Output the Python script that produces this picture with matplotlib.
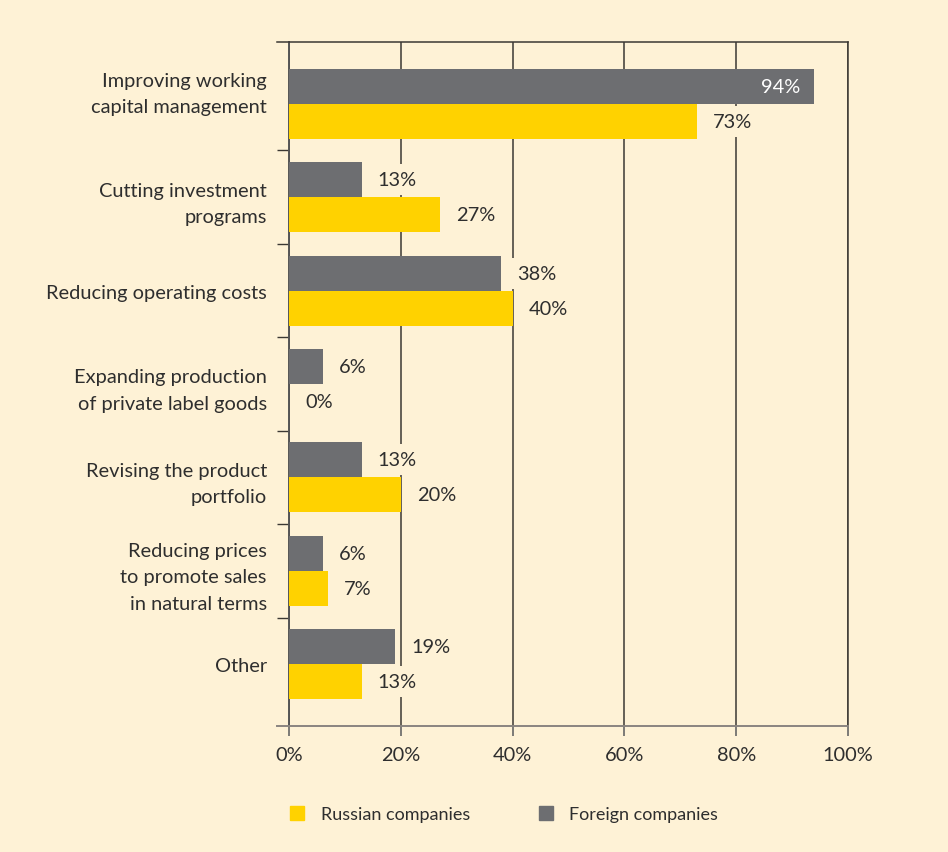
import matplotlib.pyplot as plt
import matplotlib.transforms as mtransforms
import numpy as np
from matplotlib.patches import Patch

categories = ["Improving working\ncapital management",
              "Cutting investment\nprograms",
              "Reducing operating costs",
              "Expanding production\nof private label goods",
              "Revising the product\nportfolio",
              "Reducing prices\nto promote sales\nin natural terms",
              "Other"]
foreign = [94, 13, 38, 6, 13, 6, 19]
russian = [73, 27, 40, 0, 20, 7, 13]
xticks = [0, 20, 40, 60, 80, 100]

bg = "#fef2d6"
grey = "#6d6e71"
yellow = "#ffd200"
txt = "#2e2e2e"
line = "#3b3833"

plt.rcParams['font.family'] = ['Lato', 'DejaVu Sans']
plt.rcParams['font.size'] = 14.4

fig = plt.figure(figsize=(9.48, 8.53), dpi=100, facecolor=bg)
ax = fig.add_axes([289/948, 1-727/853, 559/948, 684/853])
ax.set_facecolor(bg)

y = np.arange(len(categories))
h = 0.375
ax.barh(y - h/2, foreign, height=h, color=grey, zorder=3)
ax.barh(y + h/2, russian, height=h, color=yellow, zorder=3)

ax.set_xlim(0, 100)
ax.set_ylim(6.66, -0.66)
ax.set_xticks(xticks)
ax.set_xticklabels([f"{t}%" for t in xticks], color=txt)
ax.set_yticks(y)
ax.set_yticklabels(categories, ha='right', linespacing=1.65, color=txt)
ax.tick_params(axis='y', which='major', length=0, pad=16)
ax.set_yticks(y[:-1] + 0.5, minor=True)
ax.tick_params(axis='y', which='minor', length=8.6, width=1, color=line)
ax.tick_params(axis='x', length=7.2, width=1.2, color='#666666', pad=7)
ax.grid(axis='x', color=line, linewidth=1.1, zorder=1)

# first label sits a bit higher in the original
lab0 = ax.get_yticklabels()[0]
lab0.set_transform(lab0.get_transform() + mtransforms.ScaledTranslation(0, 0.16, fig.dpi_scale_trans))

for s in ['top', 'right']:
    ax.spines[s].set_color(line)
    ax.spines[s].set_linewidth(1.1)
ax.spines['left'].set_color('#555555')
ax.spines['left'].set_linewidth(1.4)
ax.spines['bottom'].set_color('#8a8580')
ax.spines['bottom'].set_linewidth(1.4)
ax.plot([-12/559, 0], [1, 1], transform=ax.transAxes, clip_on=False, color=line, lw=1.1)
ax.plot([-12/559, 0], [0, 0], transform=ax.transAxes, clip_on=False, color='#8a8580', lw=1.4)

box = dict(boxstyle='square,pad=0.35', facecolor=bg, edgecolor='none')
for i, v in enumerate(foreign):
    if v > 85:
        ax.annotate(f"{v}%", (v, i - h/2), xytext=(-10, 0), textcoords='offset points',
                    ha='right', va='center', color='white', zorder=5)
    else:
        ax.annotate(f"{v}%", (v, i - h/2), xytext=(11.5, 0), textcoords='offset points',
                    ha='left', va='center', color=txt, bbox=box, zorder=4)
for i, v in enumerate(russian):
    ax.annotate(f"{v}%", (v, i + h/2), xytext=(11.5, 0), textcoords='offset points',
                ha='left', va='center', color=txt, bbox=box, zorder=4)

handles = [Patch(color=yellow, label='Russian companies'),
           Patch(color=grey, label='Foreign companies')]
fig.legend(handles=handles, loc='center left', bbox_to_anchor=(290/948, 1-815/853),
           ncol=2, frameon=False, handlelength=0.8, handleheight=0.8,
           handletextpad=0.9, columnspacing=3.8, borderaxespad=0, borderpad=0,
           fontsize=13, labelcolor=txt)

fig.savefig("out.png", dpi=100, facecolor=bg)
